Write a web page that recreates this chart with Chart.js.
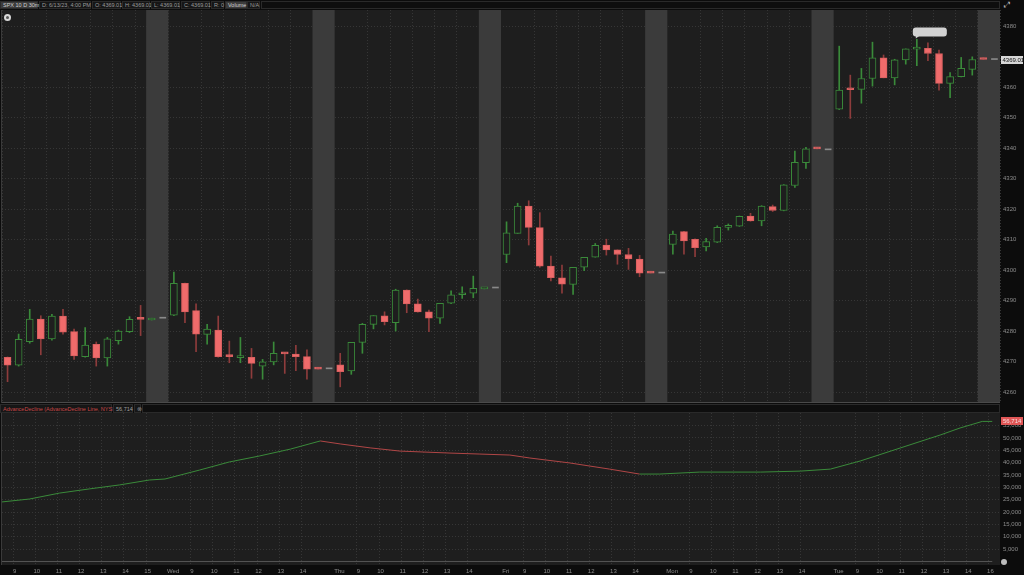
<!DOCTYPE html>
<html><head><meta charset="utf-8">
<script src="https://cdn.jsdelivr.net/npm/chart.js@4"></script>
<style>
html,body{margin:0;padding:0;background:#0c0c0c;width:1024px;height:575px;overflow:hidden;font-family:"Liberation Sans",Arial,sans-serif;}
.box{position:absolute;top:1px;height:8px;font-size:5.5px;line-height:7px;color:#9c9c9c;background:#161616;border:1px solid #2a2a2a;white-space:nowrap;padding:0 2px;box-sizing:border-box;}
.lite{background:#3c3c3c;color:#d0d0d0;}
#c1wrap{position:absolute;left:0;top:10px;width:1024px;height:393px;}
#c2wrap{position:absolute;left:0;top:413px;width:1024px;height:162px;}
#mid{position:absolute;left:0;top:403px;width:1024px;height:10px;background:#0c0c0c;}
.mbox{position:absolute;top:1px;height:9px;font-size:5.5px;line-height:8px;background:#161616;border:1px solid #2a2a2a;white-space:nowrap;padding:0 2px;box-sizing:border-box;}
#gear{position:absolute;left:4px;top:14px;width:7px;height:7px;border-radius:50%;background:#d8d8d8;}
#gear:after{content:"";position:absolute;left:2px;top:2px;width:3px;height:3px;border-radius:50%;background:#555;}
#zoomico{position:absolute;left:1004px;top:1px;font-size:8px;color:#bbb;line-height:8px;}
#bico{position:absolute;left:1001px;top:559px;width:6px;height:6px;border-radius:50%;background:#bdbdbd;}
</style></head>
<body>
<div class="box lite" style="left:0;width:38px;">SPX 10 D 30m</div>
<div class="box" style="left:39px;width:52px;">D: 6/13/23, 4:00 PM</div>
<div class="box" style="left:92px;width:29px;">O: 4369.01</div>
<div class="box" style="left:122px;width:28px;">H: 4369.01</div>
<div class="box" style="left:151px;width:29px;">L: 4369.01</div>
<div class="box" style="left:181px;width:29px;">C: 4369.01</div>
<div class="box" style="left:211px;width:13px;">R: 0</div>
<div class="box lite" style="left:225px;width:22px;">Volume</div>
<div class="box" style="left:247px;width:13px;">N/A</div>
<div class="box" style="left:261px;width:739px;background:#0e0e0e;"></div>
<div id="zoomico">⤢</div>
<div id="c1wrap"><canvas id="c1"></canvas></div>
<div id="gear"></div>
<div id="mid">
<div class="mbox" style="left:0;width:112px;color:#c84848;">AdvanceDecline (AdvanceDecline Line, NYSE)</div>
<div class="mbox" style="left:113px;width:20px;color:#a0a0a0;">56,714</div>
<div class="mbox" style="left:134px;width:7px;color:#888;">⊗</div>
<div class="mbox" style="left:142px;width:858px;background:#0e0e0e;"></div>
</div>
<div id="c2wrap"><canvas id="c2"></canvas></div>
<div id="bico"></div>
<script>
// ---- data: 30-minute SPX bars, 15 slots per session (13 regular + 2 post-close) ----
const dayNames = ['', 'Wed', 'Thu', 'Fri', 'Mon', 'Tue'];
const hourLabels = ['9', '10', '11', '12', '13', '14', '15'];
const lastHourLabel = '16';

const open = [
 4271.4,4268.8,4276.5,4283.9,4277.4,4284.9,4279.8,4271.6,4275.6,4271.2,4276.8,4279.8,4284.1,4283.6,null,
 4285.2,4295.6,4286.7,4278.9,4280.3,4271.9,4271.3,4271.4,4268.5,4269.9,4272.7,4272.4,4271.6,4268.1,null,
 4268.9,4266.9,4276.3,4282.2,4285.0,4282.7,4293.4,4288.9,4286.3,4284.2,4289.1,4291.9,4292.4,4293.8,null,
 4305.1,4312.0,4321.0,4313.9,4301.3,4297.4,4295.3,4300.9,4304.2,4308.2,4306.6,4305.1,4303.6,4299.6,null,
 4308.4,4312.6,4310.1,4307.6,4309.1,4314.0,4314.4,4317.7,4316.1,4320.8,4319.5,4327.7,4335.2,4340.2,null,
 4352.7,4359.6,4359.2,4362.8,4369.6,4363.0,4368.9,4372.4,4372.7,4371.0,4361.2,4363.4,4365.8,4369.6,null];
const high = [
 4271.5,4279.0,4287.1,4285.0,4285.5,4287.1,4280.6,4281.1,4276.4,4277.9,4280.3,4284.7,4288.4,4284.2,null,
 4299.3,4295.7,4288.9,4282.2,4284.9,4276.7,4277.9,4274.3,4270.7,4276.4,4272.9,4275.3,4273.8,4268.1,null,
 4272.7,4276.3,4282.5,4285.1,4286.3,4293.7,4293.5,4290.5,4286.9,4289.1,4293.2,4294.5,4298.0,4294.3,null,
 4315.8,4321.9,4322.7,4318.8,4304.6,4301.6,4300.9,4304.2,4308.7,4310.1,4306.6,4307.1,4304.8,4299.6,null,
 4312.8,4312.7,4310.2,4310.4,4314.5,4315.1,4317.7,4318.6,4321.1,4321.3,4328.0,4339.0,4340.2,4340.2,null,
 4373.4,4363.9,4366.1,4374.7,4370.5,4369.1,4372.5,4375.6,4374.5,4372.1,4364.7,4369.7,4369.9,4369.6,null];
const low = [
 4263.4,4268.5,4276.0,4272.2,4277.0,4279.0,4270.7,4271.4,4268.5,4268.5,4275.7,4279.5,4278.5,4283.6,null,
 4285.0,4282.7,4273.2,4275.7,4271.4,4269.6,4269.6,4264.5,4264.2,4268.9,4266.1,4267.0,4264.2,4267.5,null,
 4261.7,4265.8,4272.7,4280.7,4282.0,4280.0,4286.0,4286.2,4279.8,4282.5,4289.0,4290.7,4290.9,4293.8,null,
 4302.4,4312.0,4308.2,4300.9,4296.4,4292.4,4292.0,4299.8,4304.2,4304.9,4301.9,4300.2,4297.8,4299.0,null,
 4305.2,4305.2,4304.4,4306.3,4309.0,4313.1,4314.3,4316.0,4314.5,4319.2,4319.4,4327.1,4333.3,4339.7,null,
 4352.6,4349.7,4354.7,4360.3,4363.0,4360.7,4367.5,4367.0,4368.6,4359.0,4356.5,4363.3,4363.9,4369.01,null];
const close = [
 4268.8,4277.3,4283.9,4277.4,4284.9,4279.6,4271.8,4275.4,4271.2,4277.4,4280.0,4283.8,4283.8,4284.2,null,
 4295.6,4286.3,4279.0,4280.6,4271.6,4271.6,4271.6,4269.4,4269.9,4272.7,4272.5,4271.6,4267.5,4267.5,null,
 4266.7,4276.3,4282.2,4285.1,4283.1,4293.4,4288.9,4286.3,4284.2,4289.1,4291.9,4292.1,4294.0,4294.3,null,
 4312.2,4321.0,4314.0,4301.3,4297.5,4295.4,4300.9,4304.2,4308.1,4306.6,4305.1,4303.6,4299.0,4299.0,null,
 4311.8,4309.5,4307.3,4309.3,4314.0,4314.5,4317.6,4316.1,4321.0,4319.5,4327.9,4335.3,4339.7,4339.7,null,
 4359.0,4359.1,4362.8,4369.6,4363.0,4368.9,4372.5,4372.7,4371.0,4361.2,4363.4,4366.1,4369.01,4369.01,null];
// flat "last" marks in the last slot of each session
const sessionMarks = [4284.2, 4267.6, 4294.1, 4299.0, 4339.4, 4369.0];

// NYSE Advance/Decline line (bar position, value)
const adPos = [-0.54,1.99,4.69,7.4,10.1,12.8,14.2,17.3,20.0,22.7,25.5,28.2,30.0,32.7,35.4,39.9,42.6,45.3,47.1,50.7,54.3,57.0,58.8,62.4,67.9,71.5,74.2,76.9,80.5,84.1,85.9,87.9,88.8];
const adValue = [24100,25300,27700,29400,31000,33000,33400,37000,40300,42700,45500,48800,47600,46000,44700,43900,43500,43100,41900,39900,37400,35400,35400,36200,36200,36600,37400,40700,45950,51200,54050,56714,56714];
const adZero = [0, 0];
const adLast = 56714;

const PRICE_TICKS = [4260,4270,4280,4290,4300,4310,4320,4330,4340,4350,4360,4380];
const AD_TICKS = [5000,10000,15000,20000,25000,30000,35000,40000,45000,50000,55000];

// ---- styles ----
const GREEN = '#3a8a3a', RED = '#ef6b6b', REDWICK = '#8e3c3c', PLOT = '#1e1e1e', OUTER = '#0c0c0c';
const GRID = '#363636', TICK = '#8c8c8c', BAND = '#3b3b3b';
const FONT = {family: 'Liberation Sans', size: 6};

// ---- derived structures ----
const bodies = [], upperW = [], lowerW = [];
for (let i = 0; i < open.length; i++) {
  if (open[i] == null) continue;
  const up = close[i] > open[i];
  const top = Math.max(open[i], close[i]), bot = Math.min(open[i], close[i]);
  bodies.push({x: i, y: [open[i], close[i]], up});
  upperW.push({x: i, y: [top, high[i]], up});
  lowerW.push({x: i, y: [low[i], bot], up});
}
const marks = sessionMarks.map((v, d) => ({x: d * 15 + 14, y: [v, v]}));

const hourTicks = [], dayTicks = [];
for (let d = 0; d < dayNames.length; d++) {
  const s = d * 15;
  if (d === 0) {
    hourLabels.forEach((h, k) => hourTicks.push({value: s + 0.5 + 2 * k, label: h}));
  } else {
    dayTicks.push({value: s - 0.2, label: dayNames[d]});
    hourLabels.slice(0, 6).forEach((h, k) => hourTicks.push({value: s + 1.5 + 2 * k, label: h}));
    if (d === dayNames.length - 1) hourTicks.push({value: s + 13.5, label: lastHourLabel});
  }
}
const allTicks = hourTicks.concat(dayTicks).sort((a, b) => a.value - b.value);
const labelAt = v => { const t = allTicks.find(t => Math.abs(t.value - v) < 1e-6); return t ? t.label : ''; };
const isDayTick = v => dayTicks.some(t => Math.abs(t.value - v) < 1e-6);
const noPad = s => { s.paddingTop = 0; s.paddingBottom = 0; s.paddingLeft = 0; s.paddingRight = 0; };

const bgPlugin = {
  id: 'bg',
  beforeDraw(c) {
    const {ctx, chartArea: a} = c;
    ctx.save();
    ctx.fillStyle = OUTER; ctx.fillRect(0, 0, c.width, c.height);
    ctx.fillStyle = PLOT; ctx.fillRect(a.left, a.top, a.right - a.left, a.bottom - a.top);
    ctx.strokeStyle = '#3a3a3a'; ctx.lineWidth = 1;
    ctx.beginPath(); ctx.moveTo(a.left - 0.5, a.top); ctx.lineTo(a.left - 0.5, a.bottom); ctx.stroke();
    ctx.restore();
  }
};

const bandPlugin = {
  id: 'bands',
  beforeDatasetsDraw(c) {
    const {ctx, chartArea: a} = c, xs = c.scales.x;
    ctx.save(); ctx.fillStyle = BAND;
    for (let d = 0; d < dayNames.length; d++) {
      const x1 = xs.getPixelForValue(d * 15 + 12.5), x2 = xs.getPixelForValue(d * 15 + 14.5);
      ctx.fillRect(x1, a.top, x2 - x1, a.bottom - a.top);
    }
    ctx.strokeStyle = '#4a4a4a'; ctx.beginPath();
    ctx.moveTo(a.left, a.bottom - 0.5); ctx.lineTo(a.right, a.bottom - 0.5); ctx.stroke();
    ctx.restore();
  }
};

const priceLabelPlugin = {
  id: 'priceLabel',
  afterDraw(c) {
    const {ctx, chartArea: a} = c, ys = c.scales.y, xs = c.scales.x;
    const last = close[close.length - 2];
    const y = Math.round(ys.getPixelForValue(last));
    ctx.save();
    ctx.fillStyle = '#d6d6d6';
    ctx.fillRect(a.right + 1, y - 4, 22, 8);
    ctx.fillStyle = '#111'; ctx.font = '6px "Liberation Sans"'; ctx.textBaseline = 'middle'; ctx.textAlign = 'left';
    ctx.fillText(last.toFixed(2), a.right + 2.5, y + 0.5);
    // high bubble over the session high bar
    const hi = 82;
    const bx = xs.getPixelForValue(hi) - 4, by = ys.getPixelForValue(high[hi]) - 12;
    ctx.fillStyle = '#d2d2d2';
    ctx.beginPath();
    if (ctx.roundRect) ctx.roundRect(bx, by, 34, 9, 3); else ctx.rect(bx, by, 34, 9);
    ctx.fill();
    ctx.beginPath(); ctx.moveTo(bx + 3, by + 8); ctx.lineTo(bx + 3, by + 11); ctx.lineTo(bx + 7, by + 8); ctx.fill();
    ctx.restore();
  }
};

const xGridColor = ctx => (ctx.tick && isDayTick(ctx.tick.value)) ? 'rgba(0,0,0,0)' : GRID;

new Chart(document.getElementById('c1'), {
  type: 'bar',
  data: {
    datasets: [
      {data: bodies, grouped: false, order: 1, barThickness: 7, minBarLength: 2, borderWidth: 1, borderSkipped: false,
       backgroundColor: ctx => ctx.raw && ctx.raw.up ? PLOT : RED,
       borderColor: ctx => ctx.raw && ctx.raw.up ? GREEN : '#d95f5f'},
      {data: upperW, grouped: false, order: 2, barThickness: 1, borderWidth: 0,
       backgroundColor: ctx => ctx.raw && ctx.raw.up ? GREEN : REDWICK},
      {data: lowerW, grouped: false, order: 2, barThickness: 1, borderWidth: 0,
       backgroundColor: ctx => ctx.raw && ctx.raw.up ? GREEN : REDWICK},
      {data: marks, grouped: false, order: 1, barThickness: 6, minBarLength: 1, borderWidth: 0, backgroundColor: '#8a8a8a'}
    ]
  },
  options: {
    responsive: true, maintainAspectRatio: false, animation: false, events: [],
    layout: {padding: {left: 2, top: 0, right: 0, bottom: 0}},
    plugins: {legend: {display: false}, tooltip: {enabled: false}},
    scales: {
      x: {type: 'linear', min: -0.5, max: 89.5, offset: false,
          afterBuildTicks: s => { s.ticks = hourTicks.map(t => ({value: t.value})); },
          afterFit: s => { s.height = 0; noPad(s); },
          ticks: {display: false},
          grid: {color: GRID, drawTicks: false}, border: {display: false, dash: [1, 2]}},
      y: {position: 'right', min: 4256.4, max: 4385.25,
          afterBuildTicks: s => { s.ticks = PRICE_TICKS.map(v => ({value: v})); },
          afterFit: s => { s.width = 24; noPad(s); },
          ticks: {color: TICK, font: FONT, padding: 3, callback: v => String(v)},
          grid: {color: GRID, drawTicks: false}, border: {display: false, dash: [1, 2]}}
    }
  },
  plugins: [bgPlugin, bandPlugin, priceLabelPlugin]
});

const adLabelPlugin = {
  id: 'adLabel',
  afterDraw(c) {
    const {ctx, chartArea: a} = c, ys = c.scales.y;
    const y = Math.round(ys.getPixelForValue(adLast));
    ctx.save();
    ctx.fillStyle = '#e05656'; ctx.fillRect(a.right + 1, y - 4, 22, 8);
    ctx.fillStyle = '#f4dede'; ctx.font = '6px "Liberation Sans"'; ctx.textBaseline = 'middle';
    ctx.fillText(adLast.toLocaleString('en-US'), a.right + 3, y + 0.5);
    ctx.restore();
  }
};

new Chart(document.getElementById('c2'), {
  type: 'line',
  data: {
    datasets: [
      {data: adPos.map((x, i) => ({x, y: adValue[i]})), borderWidth: 1, pointRadius: 0, tension: 0,
       borderColor: GREEN,
       segment: {borderColor: ctx => ctx.p1.parsed.y < ctx.p0.parsed.y ? '#b04646' : GREEN}},
      {data: [{x: -0.5, y: adZero[0]}, {x: 88.8, y: adZero[1]}], borderWidth: 1, pointRadius: 0, borderColor: '#555'}
    ]
  },
  options: {
    responsive: true, maintainAspectRatio: false, animation: false, events: [],
    layout: {padding: {left: 2, top: 0, right: 0, bottom: 0}},
    plugins: {legend: {display: false}, tooltip: {enabled: false}},
    scales: {
      x: {type: 'linear', min: -0.5, max: 89.5,
          afterBuildTicks: s => { s.ticks = allTicks.map(t => ({value: t.value})); },
          afterFit: s => { s.height = 10; noPad(s); },
          ticks: {color: TICK, font: FONT, padding: 3, maxRotation: 0, autoSkip: false, labelOffset: 1.5,
                  callback: v => labelAt(v)},
          grid: {color: xGridColor, drawTicks: false}, border: {display: false, dash: [1, 2]}},
      y: {position: 'right', min: -1417, max: 60121,
          afterBuildTicks: s => { s.ticks = AD_TICKS.map(v => ({value: v})); },
          afterFit: s => { s.width = 24; noPad(s); },
          ticks: {color: TICK, font: FONT, padding: 3, callback: v => v.toLocaleString('en-US')},
          grid: {color: GRID, drawTicks: false}, border: {display: false, dash: [1, 2]}}
    }
  },
  plugins: [bgPlugin, adLabelPlugin]
});
</script>
</body></html>
